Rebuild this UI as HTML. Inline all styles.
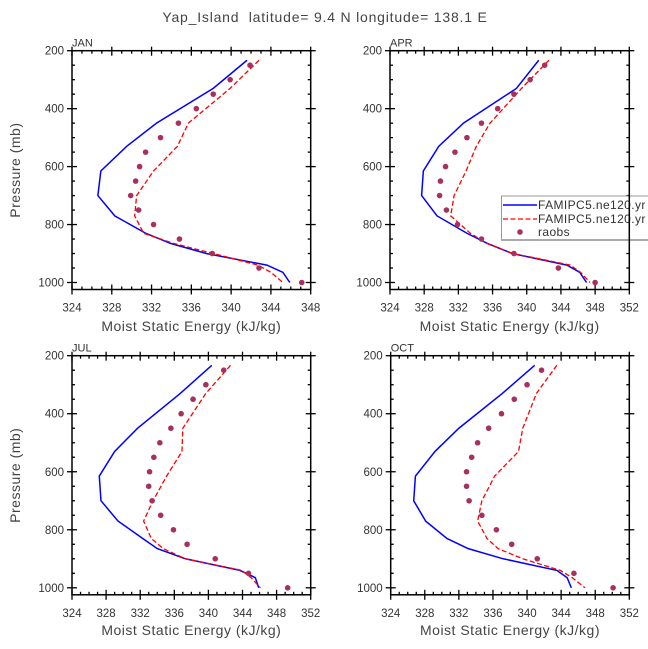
<!DOCTYPE html>
<html><head><meta charset="utf-8"><style>
body{margin:0;background:#fff;}
svg{display:block;font-family:"Liberation Sans",sans-serif;}
text{white-space:pre;}
</style></head><body>
<svg id="chart" width="648" height="649" viewBox="0 0 648 649" xmlns="http://www.w3.org/2000/svg" xml:space="preserve">
<text x="325" y="22" text-anchor="middle" font-size="14" fill="#444" letter-spacing="0.8">Yap_Island  latitude= 9.4 N longitude= 138.1 E</text>
</svg>
<script>
const modelP = [233,330,450,530,615,700,770,830,865,900,940,965,1000];
const obsP = [250,300,350,400,450,500,550,600,650,700,750,800,850,900,950,1000];
const months = ["JAN","APR","JUL","OCT"];
const xMaxes = [348,352,352,352];
const xTicksJan = [324,328,332,336,340,344,348];
const xTicksOther = [324,328,332,336,340,344,348,352];
const yTicks = [200,400,600,800,1000];
const blueJan = [341.6,338.2,332.5,329.5,326.9,326.6,328.3,331.4,333.9,337.5,343.6,345.2,345.9];
const redJan  = [342.8,339.9,335.7,334.6,332.2,330.5,330.3,331.2,334.2,338.2,342.7,344.0,345.2];
const obsJan  = [341.9,339.9,338.2,336.5,334.7,332.9,331.4,330.8,330.4,329.9,330.7,332.2,334.8,338.1,342.8,347.1];
const blueApr = [341.4,338.8,332.6,329.7,327.9,327.7,329.5,333.0,335.4,338.3,344.7,346.2,347.0];
const redApr  = [342.6,339.4,335.7,334.1,332.9,331.5,331.1,333.4,335.3,338.4,345.1,346.3,347.4];
const obsApr  = [342.1,340.4,338.5,336.6,334.7,333.0,331.6,330.5,329.9,329.8,330.6,331.9,334.7,338.5,343.7,348.0];
const blueJul = [340.4,336.7,331.7,329.0,327.2,327.4,329.4,332.3,334.0,337.3,343.7,345.5,345.9];
const redJul  = [342.6,339.7,337.0,336.9,335.1,333.5,332.4,333.3,334.7,337.3,343.9,345.0,346.1];
const obsJul  = [341.8,339.7,338.2,336.8,335.6,334.3,333.6,333.1,333.0,333.4,334.4,335.9,337.5,340.8,344.7,349.3];
const blueOct = [340.9,337.1,332.0,329.2,326.9,326.7,328.1,330.6,333.1,337.2,343.5,344.7,345.2];
const redOct  = [343.5,341.1,339.5,339.0,336.2,334.7,334.2,335.3,336.6,339.5,343.9,345.3,346.8];
const obsOct  = [341.7,340.0,338.5,337.0,335.5,334.2,333.5,332.9,332.9,333.2,334.7,336.4,338.2,341.2,345.5,350.1];
const blues=[blueJan,blueApr,blueJul,blueOct], reds=[redJan,redApr,redJul,redOct], obss=[obsJan,obsApr,obsJul,obsOct];

const NS="http://www.w3.org/2000/svg";
const svg=document.getElementById('chart');
function mk(tag,attrs,parent){const e=document.createElementNS(NS,tag);for(const k in attrs)e.setAttribute(k,attrs[k]);(parent||svg).appendChild(e);return e;}
const boxes=[{x0:72,x1:310.7,y0:50.7,y1:289.5},{x0:390,x1:629.3,y0:50.7,y1:289.5},{x0:72,x1:310.7,y0:355.7,y1:594.8},{x0:390.7,x1:629.3,y0:355.7,y1:594.8}];
boxes.forEach((b,i)=>{
  const xmin=324,xmax=xMaxes[i];
  const yTop=b.y0, y1000=b.y1-7;
  const sx=v=>b.x0+(v-xmin)/(xmax-xmin)*(b.x1-b.x0);
  const sy=p=>yTop+(p-200)/800*(y1000-yTop);
  const g=mk('g',{});
  
  
  for(let v=xmin;v<=xmax;v++){const X=sx(v);const maj=(v-xmin)%4===0;
    mk('line',{x1:X,x2:X,y1:b.y1,y2:maj?b.y1+5:b.y1-3,stroke:'#000','stroke-width':1.3},g);
    mk('line',{x1:X,x2:X,y1:b.y0,y2:maj?b.y0-4:b.y0+3,stroke:'#000','stroke-width':1.3},g);
    if(maj){mk('line',{x1:X,x2:X,y1:b.y1,y2:b.y1-5,stroke:'#000','stroke-width':1.3},g);mk('line',{x1:X,x2:X,y1:b.y0,y2:b.y0+5,stroke:'#000','stroke-width':1.3},g);}
  }
  for(let p=200;p<=1000;p+=50){const Y=sy(p);const maj=p%200===0;
    mk('line',{x1:maj?b.x0-5:b.x0,x2:b.x0+(maj?5:3),y1:Y,y2:Y,stroke:'#000','stroke-width':1.3},g);
    mk('line',{x1:b.x1-(maj?5:3),x2:maj?b.x1+5:b.x1,y1:Y,y2:Y,stroke:'#000','stroke-width':1.3},g);
  }
  const xt=(i===0)?xTicksJan:xTicksOther;
  xt.forEach(v=>{const t=mk('text',{x:sx(v),y:b.y1+22,'text-anchor':'middle','font-size':11.5,fill:'#333'},g);t.textContent=v;
    
    });
  yTicks.forEach(p=>{const t=mk('text',{x:b.x0-8,y:sy(p)+4,'text-anchor':'end','font-size':11.5,fill:'#333'},g);t.textContent=p;
    
    });
  const mt=mk('text',{x:b.x0,y:b.y0-4,'font-size':11,fill:'#333'},g);mt.textContent=months[i];
  
  
  const at=mk('text',{x:(b.x0+b.x1)/2,y:i>=2?b.y1+40:331,'text-anchor':'middle','font-size':14,fill:'#444','letter-spacing':'0.5'},g);at.textContent='Moist Static Energy (kJ/kg)';
  
  
  if(i%2===0){const cy=(b.y0+b.y1)/2;const yt=mk('text',{x:0,y:0,'text-anchor':'middle','font-size':14,fill:'#444','letter-spacing':'0.5',transform:`translate(20,${cy}) rotate(-90)`},g);yt.textContent='Pressure (mb)';
    
    }
  const bl=mk('polyline',{points:modelP.map((p,k)=>sx(blues[i][k])+','+sy(p)).join(' '),fill:'none',stroke:'#0000ff','stroke-width':1.5},g);
  
  
  const rl=mk('polyline',{points:modelP.map((p,k)=>sx(reds[i][k])+','+sy(p)).join(' '),fill:'none',stroke:'#ff0000','stroke-width':1.3,'stroke-dasharray':'5,2.5'},g);
  
  
  obsP.forEach((p,k)=>{const c=mk('circle',{cx:sx(obss[i][k]),cy:sy(p),r:2.8,fill:'#a83060'},g);
    
    });
  if(i===1){
    const lg=mk('g',{},g);
    
    
    mk('rect',{x:501.5,y:196,width:160,height:44,fill:'#fff',stroke:'#999','stroke-width':1},lg);
    mk('line',{x1:501,x2:648,y1:240,y2:240,stroke:'#aaa','stroke-width':2},lg);
    mk('line',{x1:503,x2:537,y1:205,y2:205,stroke:'#0000ff','stroke-width':1.5},lg);
    mk('line',{x1:503,x2:537,y1:219,y2:219,stroke:'#ff0000','stroke-width':1.3,'stroke-dasharray':'5,2.5'},lg);
    mk('circle',{cx:520,cy:232,r:2.8,fill:'#a83060'},lg);
    [['FAMIPC5.ne120.yr',209],['FAMIPC5.ne120.yr',223],['raobs',236]].forEach(([s,y])=>{const t=mk('text',{x:538,y:y,'font-size':12,fill:'#333','letter-spacing':'0.4'},lg);t.textContent=s;
      
      });
  }
  mk('rect',{x:b.x0,y:b.y0,width:b.x1-b.x0,height:b.y1-b.y0,fill:'none',stroke:'#000','stroke-width':1.5},g);
});
</script>
</body></html>
